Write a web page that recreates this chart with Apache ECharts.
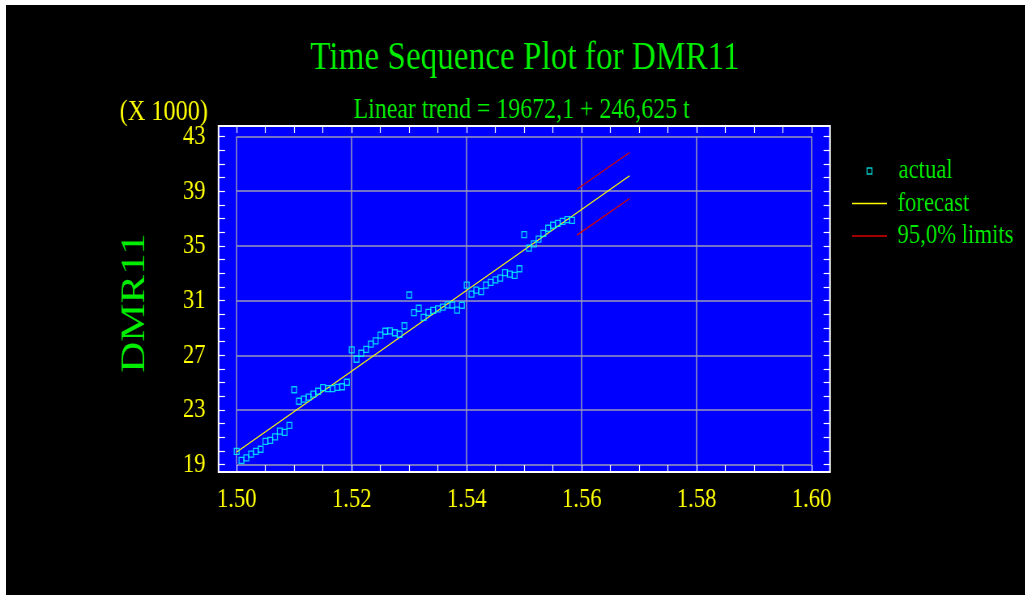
<!DOCTYPE html>
<html><head><meta charset="utf-8">
<script src="https://cdn.jsdelivr.net/npm/echarts@6/dist/echarts.min.js"></script>
<style>
html,body{margin:0;padding:0;background:#fff;overflow:hidden;width:1031px;height:595px;}
#bg{position:absolute;left:6px;top:5px;width:1019px;height:590px;background:#000;}
#chart{position:absolute;left:0;top:0;width:1273px;height:595px;transform:scaleX(0.81);transform-origin:0 0;}
</style></head><body><div id="bg"></div><div id="chart"></div>
<script>
// ---- data ----
const titleText = 'Time Sequence Plot for DMR11';
const subtitleText = 'Linear trend = 19672,1 + 246,625 t';
const yName = 'DMR11';
const yUnit = '(X 1000)';
const seriesNames = ['actual', 'forecast', '95,0% limits'];
// time axis: period t sits at startTime + (t-1)*timeStep
const startTime = 1.50;
const timeStep = 1 / 1200;
// actual observations, periods 1..71
const actualValues = [
  19980, 19320, 19500, 19780, 19980, 20130, 20710, 20780, 21030, 21460,
  21370, 21880, 24480, 23640, 23790, 23940, 24160, 24370, 24630, 24560,
  24570, 24650, 24700, 25030, 27390, 26710, 27150, 27440, 27810, 28060,
  28480, 28760, 28780, 28650, 28540, 29160, 31410, 30120, 30440, 29780,
  30140, 30290, 30390, 30530, 30690, 30680, 30310, 30660, 32130, 31470,
  31760, 31650, 32130, 32340, 32510, 32650, 33050, 32930, 32850, 33330,
  35820, 34830, 35150, 35490, 35920, 36290, 36510, 36650, 36800, 36920,
  36870
];
// linear trend / forecast line end points
const forecastPeriods = [1, 83];
const forecastValues = [19930, 40130];
// 95% limits end points
const limitPeriods = [72, 83];
const upperValues = [39140, 41830];
const lowerValues = [35790, 38470];
// axis ranges / ticks
const xMin = 1.50, xMax = 1.60, xStep = 0.02;
const yMin = 19000, yMax = 43000, yStep = 4000;

const tx = t => startTime + (t - 1) * timeStep;
const actualData = actualValues.map((v, i) => [tx(i + 1), v]);
const forecastData = forecastPeriods.map((t, i) => [tx(t), forecastValues[i]]);
const upperData = limitPeriods.map((t, i) => [tx(t), upperValues[i]]);
const lowerData = limitPeriods.map((t, i) => [tx(t), lowerValues[i]]);

const SERIF = 'Liberation Serif';
const GREEN = '#00ee00', YELLOW = '#ffff00', CYAN = '#00ffff', RED = '#d80000';
const tickStyle = { color: '#ffffff', width: 1.2 };
const legendText = { color: GREEN, fontFamily: SERIF, fontSize: 28, lineHeight: 28 };

const chart = echarts.init(document.getElementById('chart'), null, { renderer: 'canvas' });
chart.setOption({
  backgroundColor: 'transparent',
  animation: false,
  title: [
    { text: titleText, left: 648, top: 38, textAlign: 'center', padding: 0,
      textStyle: { color: GREEN, fontFamily: SERIF, fontSize: 41, fontWeight: 'normal' } },
    { text: subtitleText, left: 644, top: 95, textAlign: 'center', padding: 0,
      textStyle: { color: GREEN, fontFamily: SERIF, fontSize: 29.5, fontWeight: 'normal' } }
  ],
  graphic: [
    { type: 'rect', z: -10, shape: { x: 269.8, y: 126, width: 754.9, height: 346 },
      style: { fill: '#0000ff', stroke: '#ffffff', lineWidth: 2 } },
    { type: 'text', x: 256.8, y: 97, style: { text: yUnit, fill: YELLOW, font: '30px "Liberation Serif"', align: 'right', verticalAlign: 'top' } },
    { type: 'text', x: 166.7, y: 303, rotation: Math.PI / 2,
      style: { text: yName, fill: GREEN, font: '43px "Liberation Serif"', align: 'center', verticalAlign: 'middle' } }
  ],
  grid: { left: 292.2, right: 270.9, top: 136.5, bottom: 130.3 },
  legend: [
    { data: [seriesNames[0]], orient: 'vertical', left: 1069.8, top: 157,
      itemWidth: 6, itemHeight: 6, padding: 0, icon: 'rect', symbolKeepAspect: false,
      itemStyle: { color: 'rgba(0,0,0,0)', borderColor: CYAN, borderWidth: 1.3 },
      textStyle: Object.assign({ padding: [0, 0, 0, 27.8] }, legendText) },
    { data: [seriesNames[1], seriesNames[2]], orient: 'vertical', left: 1052, top: 189.5,
      itemWidth: 43, itemHeight: 1.4, itemGap: 4.5, padding: 0, icon: 'rect', symbolKeepAspect: false,
      textStyle: Object.assign({ padding: [0, 0, 0, 8] }, legendText) }
  ],
  xAxis: [
    { type: 'value', min: xMin, max: xMax, interval: xStep, position: 'bottom', offset: 7.3,
      axisLine: { show: false },
      axisTick: { show: true, inside: true, length: 7, lineStyle: tickStyle },
      minorTick: { show: true, splitNumber: 4, length: 7, lineStyle: tickStyle },
      splitLine: { show: true, lineStyle: { color: '#9a9ab8', width: 1.5 } },
      axisLabel: { color: YELLOW, fontFamily: SERIF, fontSize: 28, margin: 14, formatter: v => v.toFixed(2) } },
    { type: 'value', min: xMin, max: xMax, interval: xStep, position: 'top', offset: 10.5,
      axisLine: { show: false },
      axisTick: { show: true, inside: true, length: 7, lineStyle: tickStyle },
      minorTick: { show: true, splitNumber: 4, length: 7, lineStyle: tickStyle },
      splitLine: { show: false }, axisLabel: { show: false } }
  ],
  yAxis: [
    { type: 'value', min: yMin, max: yMax, interval: yStep, position: 'left', offset: 22.4,
      axisLine: { show: false },
      axisTick: { show: true, inside: true, length: 8, lineStyle: tickStyle },
      minorTick: { show: true, splitNumber: 4, length: 8, lineStyle: tickStyle },
      splitLine: { show: true, lineStyle: { color: '#9a9ab8', width: 1.5 } },
      axisLabel: { color: YELLOW, fontFamily: SERIF, fontSize: 28, margin: 16, formatter: v => String(v / 1000) } },
    { type: 'value', min: yMin, max: yMax, interval: yStep, position: 'right', offset: 22.6,
      axisLine: { show: false },
      axisTick: { show: true, inside: true, length: 8, lineStyle: tickStyle },
      minorTick: { show: true, splitNumber: 4, length: 8, lineStyle: tickStyle },
      splitLine: { show: false }, axisLabel: { show: false } }
  ],
  series: [
    { name: seriesNames[0], type: 'scatter', data: actualData, symbol: 'rect', symbolSize: 6,
      itemStyle: { color: 'rgba(0,0,0,0)', borderColor: CYAN, borderWidth: 1.3 }, z: 5 },
    { name: seriesNames[1], type: 'line', data: forecastData, symbol: 'none',
      lineStyle: { color: YELLOW, width: 1.3 }, itemStyle: { color: YELLOW }, z: 4 },
    { name: seriesNames[2], type: 'line', data: upperData, symbol: 'none',
      lineStyle: { color: RED, width: 1.3 }, itemStyle: { color: RED }, z: 4 },
    { name: seriesNames[2], type: 'line', data: lowerData, symbol: 'none',
      lineStyle: { color: RED, width: 1.3 }, itemStyle: { color: RED }, z: 4 }
  ]
});
</script></body></html>
